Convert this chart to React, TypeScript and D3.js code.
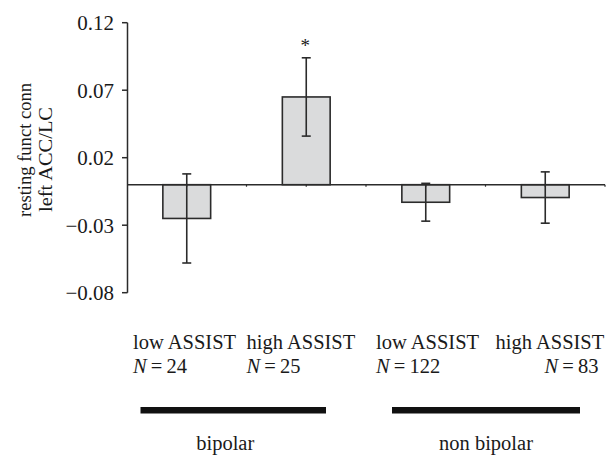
import React from "react";
import { scaleLinear, scaleBand, format } from "d3";

// values
const categories = ["low ASSIST", "high ASSIST", "low ASSIST", "high ASSIST"];
const sampleSizes = [24, 25, 122, 83];
const means = [-0.025, 0.065, -0.013, -0.0095];
const errors = [0.033, 0.029, 0.014, 0.019];
const significant = [false, true, false, false];
const groups = ["bipolar", "non bipolar"];
const groupMembers = [[0, 1], [2, 3]];
const yTicks = [0.12, 0.07, 0.02, -0.03, -0.08];
const yTitle = ["resting funct conn", "left ACC/LC"];

const W = 612;
const H = 455;
const FONT = "'Liberation Serif', 'Times New Roman', serif";
const INK = "#2b2b2b";

// nudges of the labels, relative to each band
const labelDx = [6, 0, 10, 10];
const nDx = [6, 0, 10, 59];
// y title line placement (x of baseline, y of centre, drawn length)
const titleX = [31, 51.5];
const titleY = [150, 159.5];
const titleLen = [134, 105];

export default function App() {
  const y = scaleLinear().domain([-0.08, 0.12]).range([292.7, 22.7]);
  const x = scaleBand<number>()
    .domain(categories.map((_, i) => i))
    .range([127, 605])
    .padding(0);
  const bw = x.bandwidth();
  const barW = bw * 0.4;
  const fmt = format(".2f");
  const y0 = y(0);

  const halfTicks: number[] = [];
  categories.forEach((_, i) => {
    halfTicks.push(x(i)! + bw / 2, x(i)! + bw);
  });

  return (
    <svg
      width={W}
      height={H}
      style={{ position: "absolute", left: 0, top: 0, background: "#fff" }}
      fontFamily={FONT}
    >
      {/* y axis */}
      <line x1={127.5} x2={127.5} y1={y(0.12)} y2={y(-0.08)} stroke={INK} strokeWidth={1.5} />
      {yTicks.map((t) => (
        <g key={t}>
          <line x1={122} x2={127.5} y1={y(t)} y2={y(t)} stroke={INK} strokeWidth={1.5} />
          <text x={114} y={y(t) + 7.5} textAnchor="end" fontSize={21} fill="#1a1a1a">
            {fmt(t)}
          </text>
        </g>
      ))}
      {yTitle.map((line, i) => (
        <text
          key={"t" + i}
          transform={`translate(${titleX[i]},${titleY[i]}) rotate(-90)`}
          textAnchor="middle"
          fontSize={19.5}
          fill="#1a1a1a"
          textLength={titleLen[i]}
          lengthAdjust="spacingAndGlyphs"
        >
          {line}
        </text>
      ))}

      {/* bars */}
      {means.map((m, i) => {
        const cx = x(i)! + bw / 2;
        return (
          <rect
            key={"b" + i}
            x={cx - barW / 2}
            y={Math.min(y(m), y0)}
            width={barW}
            height={Math.abs(y(m) - y0)}
            fill="#dadbdc"
            stroke={INK}
            strokeWidth={1.6}
          />
        );
      })}

      {/* zero line */}
      <line x1={127.5} x2={605} y1={y0} y2={y0} stroke={INK} strokeWidth={1.5} />
      {halfTicks.map((t, i) => (
        <line key={"h" + i} x1={t} x2={t} y1={y0} y2={y0 + 2} stroke={INK} strokeWidth={1.2} />
      ))}

      {/* error bars */}
      {means.map((m, i) => {
        const cx = x(i)! + bw / 2;
        const top = y(m + errors[i]);
        const bot = y(m - errors[i]);
        return (
          <g key={"e" + i} stroke={INK} strokeWidth={1.6}>
            <line x1={cx} x2={cx} y1={top} y2={bot} />
            <line x1={cx - 4.5} x2={cx + 4.5} y1={top} y2={top} />
            <line x1={cx - 4.5} x2={cx + 4.5} y1={bot} y2={bot} />
          </g>
        );
      })}
      {means.map((m, i) =>
        significant[i] ? (
          <text
            key={"s" + i}
            x={x(i)! + bw / 2 - 1}
            y={y(m + errors[i]) - 6}
            textAnchor="middle"
            fontSize={19}
            fill="#1a1a1a"
          >
            *
          </text>
        ) : null
      )}

      {/* category labels */}
      {categories.map((c, i) => (
        <g key={"c" + i} fontSize={20.5} fill="#1a1a1a">
          <text x={x(i)! + labelDx[i]} y={349}>
            {c}
          </text>
          <text x={x(i)! + nDx[i]} y={373}>
            <tspan fontStyle="italic">N</tspan>
            {"\u2009=\u2009" + sampleSizes[i]}
          </text>
        </g>
      ))}

      {/* group bars */}
      {groups.map((g, gi) => {
        const idx = groupMembers[gi];
        const first = x(idx[0])!;
        const last = x(idx[idx.length - 1])! + bw;
        const x1 = gi === 0 ? first + 13.5 : first + 26;
        const x2 = gi === 0 ? last - 40 : last - 25;
        return (
          <g key={"g" + g}>
            <rect x={x1} y={407} width={x2 - x1} height={6.5} fill="#111" />
            <text
              x={gi === 0 ? (x1 + x2) / 2 - 8 : (x1 + x2) / 2}
              y={450}
              textAnchor="middle"
              fontSize={20.5}
              fill="#1a1a1a"
            >
              {g}
            </text>
          </g>
        );
      })}
    </svg>
  );
}
